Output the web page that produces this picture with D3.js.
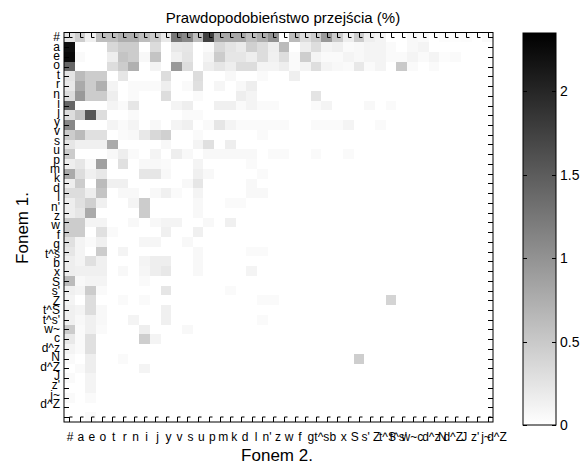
<!DOCTYPE html>
<html>
<head>
<meta charset="utf-8">
<script src="https://cdn.jsdelivr.net/npm/d3@7"></script>
<style>
body { margin: 0; background: #fff; }
text { font-family: "Liberation Sans", Arial, sans-serif; fill: #000; }
</style>
</head>
<body>
<svg id="chart" width="582" height="465"></svg>
<script>
// phoneme labels, same order on both axes (as printed on the original)
var phonemes = ["#","a","e","o","t","r","n","i","j","y","v","s","u","p","m","k","d","l","n'","z",
                "w","f","g","t^s","b","x","S","s'","Z","t^S","t^s'","w~","c","d^z","N","d^Z","J","z'","j~","d^Z"];

// transition probability (%), row = Fonem 1, column = Fonem 2
var probabilities = [
[0.25,0.45,0.14,0.6,0.6,0.75,0.75,0.6,0.47,0.2, 1.25,1.1,0.6,1.75,0.8,0.8,0.8,0.6,0.75,1.0, 0,0.63,0.31,0.47,0.94,0.47,0.16,0.47,0.16,0.1, 0,0,0.06,0.05,0,0.03,0.02,0.03,0,0.05],
[2.2,0,0,0,0.36,0.47,0.47,0,0.33,0, 0.21,0.23,0,0.05,0.36,0.25,0.18,0.43,0.31,0.16, 0.63,0,0.16,0.31,0.1,0.14,0.05,0.06,0.1,0.1, 0.05,0,0.06,0.1,0,0,0,0,0,0],
[2.26,0.05,0,0,0.16,0.54,0.47,0.06,0.54,0, 0.14,0.25,0,0.1,0.47,0.23,0.23,0.16,0.31,0.14, 0.3,0.05,0.45,0.1,0.05,0.05,0.1,0.06,0.1,0.1, 0.05,0.05,0.1,0.05,0.1,0.03,0.05,0,0,0],
[1.41,0,0,0,0.31,0.47,0.73,0,0.1,0, 0.94,0.31,0,0.16,0.23,0.16,0.31,0.31,0.1,0.1, 0.16,0.05,0.1,0.3,0.1,0.06,0.05,0.21,0.05,0.1, 0,0.5,0.05,0,0.05,0,0,0,0,0],
[0.25,0.63,0.47,0.47,0,0.23,0,0,0,0.31, 0,0,0.31,0,0,0.06,0,0,0.05,0, 0,0.15,0,0,0,0,0,0,0,0, 0,0,0,0,0,0,0,0,0,0],
[0.2,0.78,0.47,0.73,0.1,0,0.05,0.05,0.05,0.16, 0,0.05,0.29,0,0.08,0,0.06,0.16,0,0, 0,0,0,0,0,0,0,0,0,0, 0,0,0,0,0,0,0,0,0,0],
[0.31,0.94,0.47,0.47,0.16,0,0.05,0,0,0.31, 0,0,0.05,0,0,0,0.16,0.1,0,0, 0,0,0,0.25,0,0,0,0,0,0, 0,0,0,0,0,0,0,0,0,0],
[1.41,0,0,0,0.1,0.05,0.23,0,0,0, 0.1,0.16,0,0,0.14,0.14,0.05,0.1,0.05,0.05, 0,0,0,0.05,0.1,0,0,0,0.06,0, 0.05,0,0,0,0,0,0,0,0,0],
[0.31,0.54,1.57,0.31,0,0,0.05,0,0,0, 0,0.05,0.05,0,0,0,0,0,0,0, 0,0,0,0,0,0,0,0,0,0, 0,0,0,0,0,0,0,0,0,0],
[1.1,0,0,0,0.1,0.05,0.1,0,0.06,0, 0.1,0.14,0,0.05,0.23,0.1,0.05,0.05,0.05,0.05, 0.05,0,0,0.05,0.05,0.05,0.1,0,0,0.05, 0,0,0,0,0,0,0,0,0,0],
[0.47,0.63,0.29,0.29,0,0.05,0.06,0.21,0.36,0.43, 0,0,0.05,0,0,0,0,0,0.05,0, 0,0,0,0,0,0,0,0,0,0, 0,0,0,0,0,0,0,0,0,0],
[0.23,0.14,0.14,0.14,0.78,0,0,0,0,0.06, 0,0,0.1,0.29,0,0.16,0,0,0,0, 0,0,0,0,0,0,0,0,0,0, 0,0,0,0,0,0,0,0,0,0],
[0.47,0,0,0,0.06,0.16,0.05,0,0.1,0, 0.16,0.06,0,0.06,0.06,0.06,0.06,0.06,0,0.05, 0.05,0,0,0.05,0,0,0.05,0,0,0, 0,0,0,0,0,0,0,0,0,0],
[0.16,0.23,0.06,0.88,0,0.29,0,0.06,0.06,0.05, 0,0,0.1,0,0,0,0,0.05,0,0, 0,0,0,0,0,0,0,0,0,0, 0,0,0,0,0,0,0,0,0,0],
[0.78,0.31,0.14,0.21,0,0,0,0.23,0.23,0.06, 0,0,0.14,0.06,0,0,0,0,0.05,0, 0,0,0,0,0,0,0,0,0,0, 0,0,0,0,0,0,0,0,0,0],
[0.16,0.47,0,0.63,0.14,0.14,0,0,0,0, 0,0.06,0.23,0,0,0,0,0.06,0,0, 0,0,0,0,0,0,0,0,0,0, 0,0,0,0,0,0,0,0,0,0],
[0.31,0.31,0.16,0.54,0,0.06,0.06,0,0.06,0.14, 0.05,0,0.1,0,0,0,0,0.06,0.06,0, 0,0,0,0,0,0,0,0,0,0, 0,0,0,0,0,0,0,0,0,0],
[0.16,0.29,0.43,0.14,0,0,0.1,0.47,0,0, 0,0,0.06,0,0,0.05,0.05,0,0,0, 0,0,0,0,0,0,0,0,0,0, 0,0,0,0,0,0,0,0,0,0],
[0.16,0.23,0.78,0,0,0,0,0.47,0,0, 0,0,0.06,0,0,0,0,0,0,0, 0,0,0,0,0,0,0,0,0,0, 0,0,0,0,0,0,0,0,0,0],
[0.47,0.47,0.1,0.1,0,0,0.06,0,0.06,0.1, 0.1,0,0,0.06,0,0.14,0,0,0,0, 0,0,0,0,0,0,0,0,0,0, 0,0,0,0,0,0,0,0,0,0],
[0.47,0.47,0,0.29,0.05,0,0,0,0,0.14, 0,0,0.14,0,0,0,0,0,0,0, 0,0,0,0,0,0,0,0,0,0, 0,0,0,0,0,0,0,0,0,0],
[0.29,0.1,0.05,0.14,0,0,0,0.08,0.08,0, 0,0.06,0,0,0,0,0,0,0,0, 0,0,0,0,0,0,0,0,0,0, 0,0,0,0,0,0,0,0,0,0],
[0.23,0.1,0,0.47,0,0.1,0,0,0,0, 0,0,0.06,0,0,0,0,0.05,0.05,0, 0,0,0,0,0,0,0,0,0,0, 0,0,0,0,0,0,0,0,0,0],
[0.16,0.1,0.29,0.14,0,0,0,0.1,0.16,0.16, 0,0,0.06,0,0,0,0,0,0,0, 0,0,0,0,0,0,0,0,0,0, 0,0,0,0,0,0,0,0,0,0],
[0.16,0.14,0.14,0.14,0,0.06,0,0.08,0.16,0.21, 0,0,0.06,0,0,0,0,0.1,0,0, 0,0,0,0,0,0,0,0,0,0, 0,0,0,0,0,0,0,0,0,0],
[0.63,0.06,0.1,0.1,0,0,0,0.05,0,0, 0,0,0,0,0,0,0,0,0,0, 0,0,0,0,0,0,0,0,0,0, 0,0,0,0,0,0,0,0,0,0],
[0.14,0.1,0.47,0.05,0,0,0,0,0,0.23, 0,0,0,0,0,0.05,0,0,0,0, 0,0,0,0,0,0,0,0,0,0, 0,0,0,0,0,0,0,0,0,0],
[0.1,0,0.31,0,0,0.05,0,0.05,0,0, 0,0,0,0,0,0,0,0,0.05,0.05, 0,0,0,0,0,0,0,0,0,0, 0.4,0,0,0,0,0,0,0,0,0],
[0.14,0.1,0.31,0.06,0,0,0,0,0,0.14, 0,0,0,0,0,0,0,0,0,0, 0,0,0,0,0,0,0,0,0,0, 0,0,0,0,0,0,0,0,0,0],
[0.14,0.06,0.14,0.06,0,0,0.1,0,0,0.14, 0,0,0,0,0,0,0,0,0.05,0, 0,0,0,0,0,0,0,0,0,0, 0,0,0,0,0,0,0,0,0,0],
[0.47,0.05,0.14,0.05,0,0,0,0.16,0,0, 0,0.06,0,0,0,0,0,0,0,0, 0,0,0,0,0,0,0,0,0,0, 0,0,0,0,0,0,0,0,0,0],
[0.2,0.05,0.29,0,0,0,0,0.45,0.1,0, 0,0,0,0,0,0,0,0,0,0, 0,0,0,0,0,0,0,0,0,0, 0,0,0,0,0,0,0,0,0,0],
[0.1,0.05,0.29,0,0,0,0,0,0,0, 0,0,0,0,0,0,0,0,0,0, 0,0,0,0,0,0,0,0,0,0, 0,0,0,0,0,0,0,0,0,0],
[0.05,0,0.16,0,0,0.05,0,0,0,0, 0,0,0,0,0,0,0,0,0,0, 0,0,0,0,0,0,0,0.45,0,0, 0,0,0,0,0,0,0,0,0,0],
[0,0.05,0.16,0,0,0,0,0.1,0,0, 0,0,0,0,0,0,0,0,0,0, 0,0,0,0,0,0,0,0,0,0, 0,0,0,0,0,0,0,0,0,0],
[0.05,0,0.1,0,0,0,0,0,0,0, 0,0,0,0,0,0,0,0,0,0, 0,0,0,0,0,0,0,0,0,0, 0,0,0,0,0,0,0,0,0,0],
[0,0,0.1,0,0,0,0,0,0,0, 0,0,0,0,0,0,0,0,0,0, 0,0,0,0,0,0,0,0,0,0, 0,0,0,0,0,0,0,0,0,0],
[0.05,0,0.05,0,0,0,0,0,0,0, 0,0,0,0,0,0,0,0,0,0, 0,0,0,0,0,0,0,0,0,0, 0,0,0,0,0,0,0,0,0,0],
[0,0,0,0,0,0,0,0,0,0, 0,0,0,0,0,0,0,0,0,0, 0,0,0,0,0,0,0,0,0,0, 0,0,0,0,0,0,0,0,0,0],
[0,0,0.05,0,0,0,0,0,0,0, 0,0,0,0,0,0,0,0,0,0, 0,0,0,0,0,0,0,0,0,0, 0,0,0,0,0,0,0,0,0,0]
];

var colorTicks = [0, 0.5, 1, 1.5, 2];
var colorMax = 2.35;

var svg = d3.select("#chart");
var idx = d3.range(phonemes.length);

var plot = {left: 64, right: 493, top: 32.5, bottom: 422};
var x = d3.scaleBand().domain(idx).range([plot.left, plot.right]);
var y = d3.scaleBand().domain(idx).range([plot.top, plot.bottom]);
// tick labels are spread a bit differently than the cells in the original
var xLab = d3.scalePoint().domain(idx).range([70, 497]);
var yLab = d3.scalePoint().domain(idx).range([37, 404]);
var color = d3.scaleLinear().domain([0, colorMax]).range(["#ffffff", "#000000"]);

// cells
var cells = [];
probabilities.forEach(function(row, i){
    row.forEach(function(v, j){ cells.push({r: i, c: j, v: v}); });
});
svg.append("g")
    .attr("shape-rendering", "crispEdges")
    .selectAll("rect")
    .data(cells)
    .enter().append("rect")
    .attr("x", function(d){ return x(d.c); })
    .attr("y", function(d){ return y(d.r); })
    .attr("width", x.bandwidth() + 0.5)
    .attr("height", y.bandwidth() + 0.5)
    .attr("fill", function(d){ return color(d.v); });

// frame
svg.append("rect")
    .attr("x", plot.left).attr("y", plot.top)
    .attr("width", plot.right - plot.left).attr("height", plot.bottom - plot.top)
    .attr("fill", "none").attr("stroke", "#000").attr("stroke-width", 1);

// little hook ticks like the original
var ticks = svg.append("g").attr("stroke", "#000").attr("fill", "none").attr("stroke-width", 1);
idx.forEach(function(k){
    var cx = Math.round(x(k) + x.bandwidth() / 2) + 0.5;
    var cy = Math.round(y(k) + y.bandwidth() / 2) + 0.5;
    ticks.append("path").attr("d", "M" + cx + "," + plot.top + "V" + (plot.top + 5) + "H" + (cx + 3));
    ticks.append("path").attr("d", "M" + cx + "," + plot.bottom + "V" + (plot.bottom - 5) + "H" + (cx + 3));
    ticks.append("path").attr("d", "M" + plot.left + "," + cy + "H" + (plot.left + 5));
    ticks.append("path").attr("d", "M" + plot.right + "," + cy + "H" + (plot.right - 5));
});

// tick labels
svg.append("g").selectAll("text")
    .data(idx).enter().append("text")
    .attr("x", function(d){ return xLab(d); })
    .attr("y", 441)
    .attr("text-anchor", "middle")
    .style("font-size", "12px")
    .text(function(d){ return phonemes[d]; });

svg.append("g").selectAll("text")
    .data(idx).enter().append("text")
    .attr("x", 60)
    .attr("y", function(d){ return yLab(d); })
    .attr("dy", "0.35em")
    .attr("text-anchor", "end")
    .style("font-size", "12px")
    .text(function(d){ return phonemes[d]; });

// titles
svg.append("text")
    .attr("x", 283).attr("y", 23)
    .attr("text-anchor", "middle")
    .style("font-size", "15px")
    .text("Prawdopodobieństwo przejścia (%)");

svg.append("text")
    .attr("x", 277).attr("y", 461)
    .attr("text-anchor", "middle")
    .style("font-size", "17px")
    .text("Fonem 2.");

svg.append("text")
    .attr("transform", "translate(28,228) rotate(-90)")
    .attr("text-anchor", "middle")
    .style("font-size", "17px")
    .text("Fonem 1.");

// colour bar
var bar = {left: 523, right: 556, top: 33, bottom: 425};
var cy = d3.scaleLinear().domain([0, colorMax]).range([bar.bottom, bar.top]);

var grad = svg.append("defs").append("linearGradient")
    .attr("id", "cbar").attr("x1", 0).attr("y1", 1).attr("x2", 0).attr("y2", 0);
grad.append("stop").attr("offset", "0%").attr("stop-color", color(0));
grad.append("stop").attr("offset", "100%").attr("stop-color", color(colorMax));

svg.append("rect")
    .attr("x", bar.left).attr("y", bar.top)
    .attr("width", bar.right - bar.left).attr("height", bar.bottom - bar.top)
    .attr("fill", "url(#cbar)").attr("stroke", "#000");

var cb = svg.append("g");
colorTicks.forEach(function(t){
    var ty = Math.round(cy(t)) + 0.5;
    cb.append("path").attr("stroke", "#000")
        .attr("d", "M" + bar.left + "," + ty + "h4M" + bar.right + "," + ty + "h-4");
    cb.append("text")
        .attr("x", bar.right + 4).attr("y", ty)
        .attr("dy", "0.35em")
        .style("font-size", "14px")
        .text(t);
});
</script>
</body>
</html>
